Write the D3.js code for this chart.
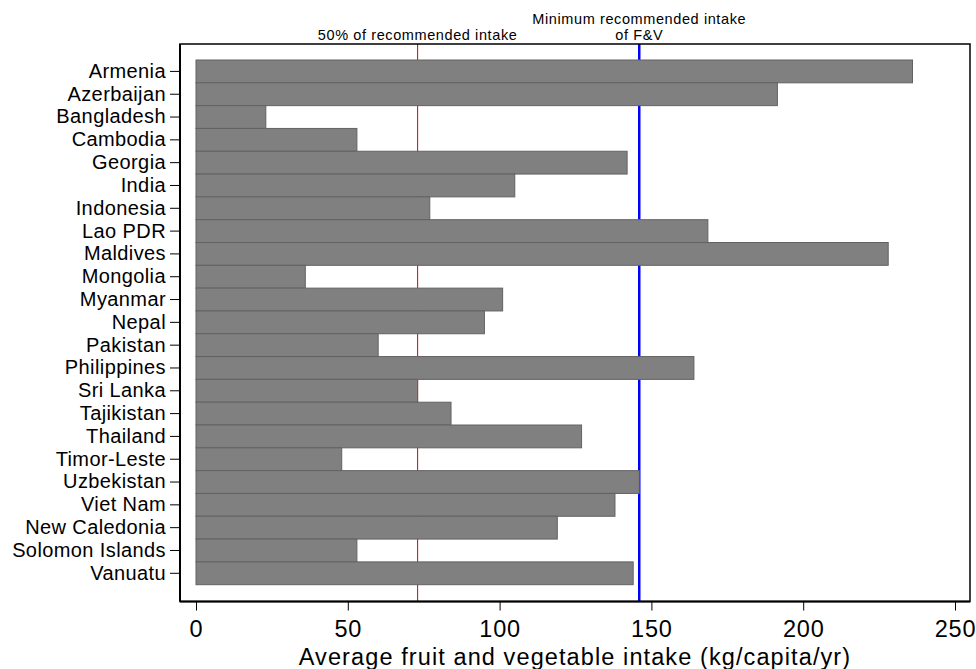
<!DOCTYPE html>
<html>
<head>
<meta charset="utf-8">
<script src="https://cdn.jsdelivr.net/npm/d3@7"></script>
<style>
  body { margin: 0; background: #fff; }
  svg { display: block; font-family: "Liberation Sans", Arial, sans-serif; }
</style>
</head>
<body>
<svg id="chart"></svg>
<script>
const countries = ["Armenia", "Azerbaijan", "Bangladesh", "Cambodia", "Georgia", "India",
    "Indonesia", "Lao PDR", "Maldives", "Mongolia", "Myanmar", "Nepal", "Pakistan",
    "Philippines", "Sri Lanka", "Tajikistan", "Thailand", "Timor-Leste", "Uzbekistan",
    "Viet Nam", "New Caledonia", "Solomon Islands", "Vanuatu"];
const intake = [236, 191.5, 23, 53, 142, 105, 77, 168.6, 228, 36, 101, 95, 60,
    164, 73, 84, 127, 48, 146, 138, 119, 53, 144];
const xTicks = [0, 50, 100, 150, 200, 250];
const refValues = [73, 146];
const refLabels = [["50% of recommended intake"], ["Minimum recommended intake", "of F&V"]];
const xTitle = "Average fruit and vegetable intake (kg/capita/yr)";

const width = 976, height = 669;
// plot region (frame) in pixels
const frame = {left: 180, right: 970, top: 44, bottom: 601.5};

const svg = d3.select("#chart")
    .attr("width", width)
    .attr("height", height);

const x = d3.scaleLinear()
    .domain([0, 250])
    .range([196, 955]);

const y = d3.scaleBand()
    .domain(countries)
    .range([60, 584.7])
    .padding(0);

// reference lines sit behind the bars
const refColors = ["#d40000", "#0000ff"];
const refWidths = [1, 2.5];
svg.selectAll(".ref")
    .data(refValues)
    .enter()
    .append("line")
    .attr("class", "ref")
    .attr("x1", d => x(d))
    .attr("x2", d => x(d))
    .attr("y1", frame.top)
    .attr("y2", frame.bottom)
    .attr("stroke", (d, i) => refColors[i])
    .attr("stroke-width", (d, i) => refWidths[i]);

// bars
svg.selectAll(".bar")
    .data(countries)
    .enter()
    .append("rect")
    .attr("class", "bar")
    .attr("x", x(0))
    .attr("y", d => y(d))
    .attr("width", (d, i) => x(intake[i]) - x(0))
    .attr("height", y.bandwidth())
    .attr("fill", "#808080")
    .attr("stroke", "#626262")
    .attr("stroke-width", 1);

// frame
svg.append("rect")
    .attr("x", frame.left)
    .attr("y", frame.top)
    .attr("width", frame.right - frame.left)
    .attr("height", frame.bottom - frame.top)
    .attr("fill", "none")
    .attr("stroke", "#000")
    .attr("stroke-width", 1.5);

// x axis
const xAxis = svg.append("g")
    .attr("transform", `translate(0,${frame.bottom})`)
    .call(d3.axisBottom(x).tickValues(xTicks).tickSize(9).tickPadding(10));
xAxis.select(".domain").attr("d", `M${frame.left},0H${frame.right}`).attr("stroke-width", 2);
xAxis.selectAll("text")
    .attr("font-size", 23.5)
    .attr("font-family", "Liberation Sans, Arial, sans-serif")
    .attr("letter-spacing", 0.8)
    .attr("fill", "#000");

// y axis
const yAxis = svg.append("g")
    .attr("transform", `translate(${frame.left},0)`)
    .call(d3.axisLeft(y).tickSize(10).tickPadding(4));
yAxis.select(".domain").attr("d", `M0,${frame.top}V${frame.bottom}`).attr("stroke-width", 2);
yAxis.selectAll("text")
    .attr("font-size", 20)
    .attr("font-family", "Liberation Sans, Arial, sans-serif")
    .attr("letter-spacing", 0.4)
    .attr("fill", "#000");

// x title
svg.append("text")
    .attr("x", (frame.left + frame.right) / 2)
    .attr("y", 665)
    .attr("text-anchor", "middle")
    .attr("font-size", 23.5)
    .attr("letter-spacing", 1.1)
    .text(xTitle);

// reference line labels
refValues.forEach((v, i) => {
    const lines = refLabels[i];
    lines.forEach((t, j) => {
        svg.append("text")
            .attr("x", x(v))
            .attr("y", 39.5 - (lines.length - 1 - j) * 15.5)
            .attr("text-anchor", "middle")
            .attr("font-size", 14.5)
            .attr("letter-spacing", 0.6)
            .text(t);
    });
});
</script>
</body>
</html>
